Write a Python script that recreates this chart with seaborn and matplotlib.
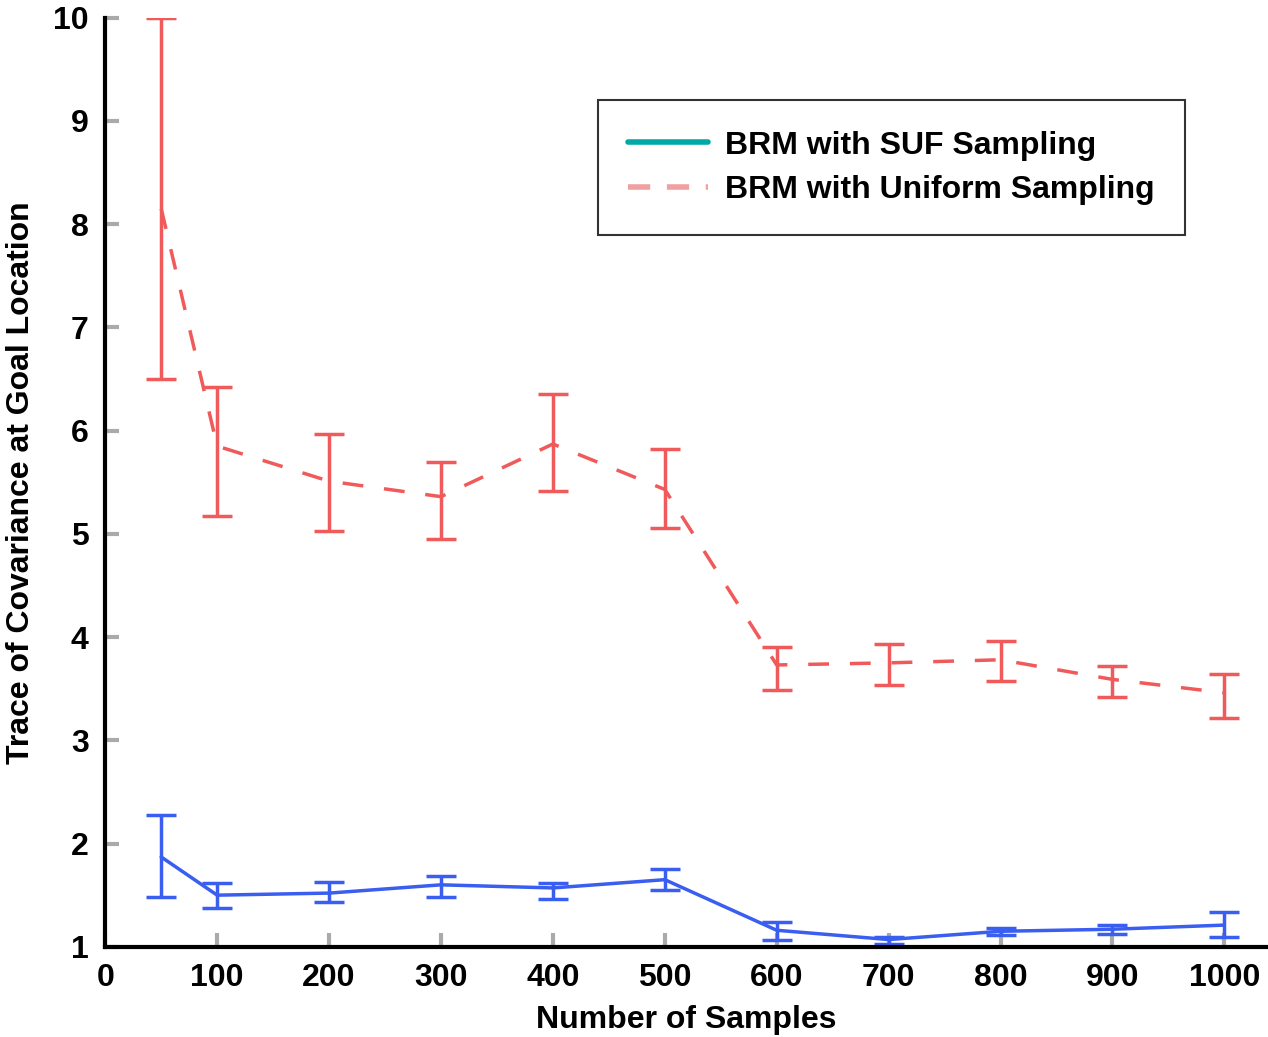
import matplotlib
matplotlib.use("Agg")
import matplotlib.pyplot as plt
from matplotlib.lines import Line2D
import numpy as np
import pandas as pd
import seaborn as sns

# values
samples = [50, 100, 200, 300, 400, 500, 600, 700, 800, 900, 1000]

suf_mean = [1.87, 1.50, 1.52, 1.60, 1.57, 1.65, 1.16, 1.07, 1.15, 1.17, 1.21]
suf_low = [1.48, 1.38, 1.43, 1.48, 1.46, 1.55, 1.07, 1.03, 1.11, 1.12, 1.09]
suf_high = [2.28, 1.62, 1.63, 1.69, 1.62, 1.75, 1.24, 1.09, 1.18, 1.21, 1.34]

uni_mean = [8.15, 5.85, 5.51, 5.36, 5.87, 5.43, 3.73, 3.75, 3.78, 3.59, 3.46]
uni_low = [6.50, 5.17, 5.03, 4.95, 5.41, 5.06, 3.49, 3.54, 3.57, 3.42, 3.22]
uni_high = [10.0, 6.42, 5.97, 5.70, 6.35, 5.82, 3.90, 3.93, 3.96, 3.72, 3.64]

x_ticks = list(range(0, 1001, 100))
y_ticks = list(range(1, 11))

SUF_LABEL = "BRM with SUF Sampling"
UNI_LABEL = "BRM with Uniform Sampling"

sns.set_theme(style="white", rc={
    "xtick.bottom": True, "ytick.left": True,
    "text.color": "black", "axes.labelcolor": "black",
    "xtick.color": "black", "ytick.color": "black",
})
plt.rcParams["font.family"] = ["Liberation Sans", "DejaVu Sans"]
plt.rcParams["font.weight"] = "bold"

df = pd.DataFrame({
    "samples": samples * 2,
    "trace": suf_mean + uni_mean,
    "method": [SUF_LABEL] * len(samples) + [UNI_LABEL] * len(samples),
})

fig = plt.figure(figsize=(12.68, 10.37), dpi=100)
ax = fig.add_axes([0.083, 0.087, 0.917, 0.896])

blue = "#3a5ef0"
red = "#f05a5a"

sns.lineplot(data=df[df.method == SUF_LABEL], x="samples", y="trace",
             color=blue, linewidth=2.5, ax=ax, legend=False)
sns.lineplot(data=df[df.method == UNI_LABEL], x="samples", y="trace",
             color=red, linewidth=2.5, ax=ax, legend=False)
ax.lines[1].set_dashes([6, 6])

for m, lo, hi, c in [(suf_mean, suf_low, suf_high, blue),
                     (uni_mean, uni_low, uni_high, red)]:
    m = np.array(m)
    yerr = np.vstack([m - np.array(lo), np.array(hi) - m])
    ax.errorbar(samples, m, yerr=yerr, fmt="none", ecolor=c,
                elinewidth=2.5, capsize=11, capthick=2.5)

ax.set_xlim(0, 1039)
ax.set_ylim(1, 10)
ax.set_xticks(x_ticks)
ax.set_yticks(y_ticks)
ax.tick_params(direction="in", length=10, width=3, color="#aaaaaa",
               labelcolor="black", labelsize=23, pad=12)
for lab in ax.get_xticklabels() + ax.get_yticklabels():
    lab.set_fontweight("bold")

for side in ["top", "right"]:
    ax.spines[side].set_visible(False)
for side in ["left", "bottom"]:
    ax.spines[side].set_color("black")
    ax.spines[side].set_linewidth(3)

ax.set_xlabel("Number of Samples", fontsize=23, fontweight="bold", labelpad=8)
ax.set_ylabel("Trace of Covariance at Goal Location", fontsize=23,
              fontweight="bold", labelpad=12)

handles = [
    Line2D([], [], color="#00a8a8", linewidth=4),
    Line2D([], [], color="#f0a0a0", linewidth=4, dashes=[4, 3]),
]
leg = ax.legend(handles, [SUF_LABEL, UNI_LABEL], loc="upper right",
                bbox_to_anchor=(0.929, 0.911), frameon=True,
                fancybox=False, handlelength=2.5, handletextpad=0.55,
                borderpad=0.95, labelspacing=0.45, borderaxespad=0,
                prop={"weight": "bold", "size": 23})
leg.get_frame().set_edgecolor("black")
leg.get_frame().set_linewidth(1.5)
for t in leg.get_texts():
    t.set_color("black")

fig.savefig("out.png", dpi=100)
